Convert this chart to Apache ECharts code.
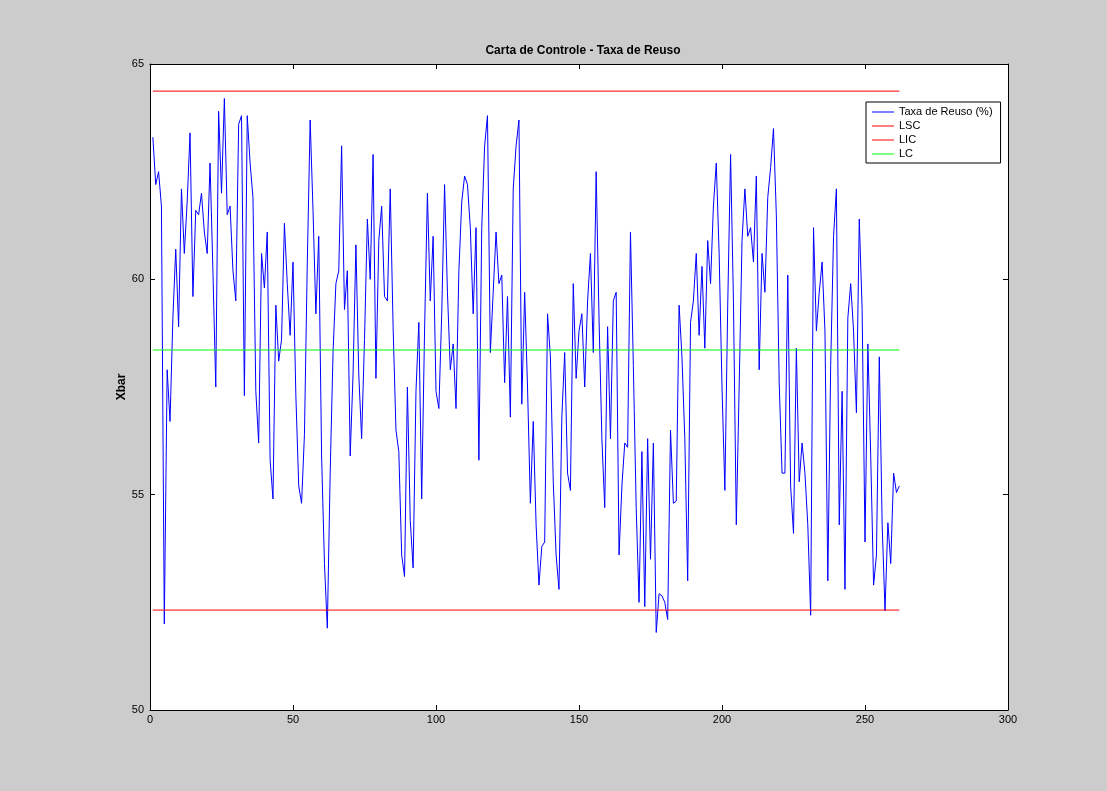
<!DOCTYPE html>
<html>
<head>
<meta charset="utf-8">
<script src="https://cdn.jsdelivr.net/npm/echarts@6/dist/echarts.min.js"></script>
<style>
  html, body { margin: 0; padding: 0; background: #cccccc; }
  #chart { width: 1107px; height: 791px; }
</style>
</head>
<body>
<div id="chart"></div>
<script>
// dados da carta de controle (amostras 1..262)
var taxaReuso = [
  63.3, 62.2, 62.5, 61.7, 52.0, 57.9, 56.7, 59.1, 60.7, 58.9,
  62.1, 60.6, 61.8, 63.4, 59.6, 61.6, 61.5, 62.0, 61.1, 60.6,
  62.7, 60.2, 57.5, 63.9, 62.0, 64.2, 61.5, 61.7, 60.2, 59.5,
  63.6, 63.8, 57.3, 63.8, 62.7, 61.9, 57.4, 56.2, 60.6, 59.8,
  61.1, 55.8, 54.9, 59.4, 58.1, 58.6, 61.3, 59.9, 58.7, 60.4,
  57.3, 55.2, 54.8, 56.4, 60.4, 63.7, 61.6, 59.2, 61.0, 55.9,
  53.4, 51.9, 55.5, 58.3, 59.9, 60.2, 63.1, 59.3, 60.2, 55.9,
  57.8, 60.8, 57.8, 56.3, 58.6, 61.4, 60.0, 62.9, 57.7, 60.9,
  61.7, 59.6, 59.5, 62.1, 58.9, 56.5, 56.0, 53.6, 53.1, 57.5,
  54.4, 53.3, 57.4, 59.0, 54.9, 58.8, 62.0, 59.5, 61.0, 57.4,
  57.0, 59.2, 62.2, 59.7, 57.9, 58.5, 57.0, 60.2, 61.8, 62.4,
  62.2, 61.2, 59.2, 61.2, 55.8, 61.2, 63.1, 63.8, 58.3, 59.7,
  61.1, 59.9, 60.1, 57.6, 59.6, 56.8, 62.1, 63.1, 63.7, 57.1,
  59.7, 57.5, 54.8, 56.7, 54.3, 52.9, 53.8, 53.9, 59.2, 58.2,
  55.3, 53.6, 52.8, 56.8, 58.3, 55.5, 55.1, 59.9, 57.7, 58.8,
  59.2, 57.5, 59.5, 60.6, 58.3, 62.5, 59.1, 56.3, 54.7, 58.9,
  56.3, 59.5, 59.7, 53.6, 55.2, 56.2, 56.1, 61.1, 58.0, 54.7,
  52.5, 56.0, 52.4, 56.3, 53.5, 56.2, 51.8, 52.7, 52.65, 52.5,
  52.1, 56.5, 54.8, 54.85, 59.4, 58.2, 56.3, 53.0, 59.0, 59.5,
  60.6, 58.7, 60.3, 58.4, 60.9, 59.9, 61.7, 62.7, 60.6, 57.5,
  55.1, 59.4, 62.9, 59.5, 54.3, 57.5, 60.9, 62.1, 61.0, 61.2,
  60.4, 62.4, 57.9, 60.6, 59.7, 61.9, 62.6, 63.5, 61.5, 57.6,
  55.5, 55.5, 60.1, 55.2, 54.1, 58.4, 55.3, 56.2, 55.5, 54.3,
  52.2, 61.2, 58.8, 59.7, 60.4, 58.8, 53.0, 58.0, 61.0, 62.1,
  54.3, 57.4, 52.8, 59.1, 59.9, 58.8, 56.9, 61.4, 59.3, 53.9,
  58.5, 55.9, 52.9, 53.6, 58.2, 54.3, 52.3, 54.35, 53.4, 55.5,
  55.05, 55.2
];
var lsc = 64.37;   // limite superior
var lic = 52.32;   // limite inferior
var lc = 58.36;    // linha central
var xTicks = [0, 50, 100, 150, 200, 250, 300];
var yTicks = [50, 55, 60, 65];

var chart = echarts.init(document.getElementById('chart'), null, { renderer: 'canvas' });

var serie = taxaReuso.map(function (v, i) { return [i + 1, v]; });
var n = taxaReuso.length;
function constante(v) { return [[1, v], [n, v]]; }

var fonte = 'Liberation Sans, Arial, Helvetica, sans-serif';
function eixo() {
  return {
    axisLine: { show: true, onZero: false, lineStyle: { color: '#000', width: 1 } },
    axisTick: { show: true, inside: true, length: 5, lineStyle: { color: '#000' } },
    splitLine: { show: false }
  };
}

var option = {
  animation: false,
  backgroundColor: '#cccccc',
  title: {
    text: 'Carta de Controle - Taxa de Reuso',
    left: 578, top: 40, textAlign: 'center',
    textStyle: { fontFamily: fonte, fontSize: 12, fontWeight: 'bold', color: '#000' }
  },
  grid: { left: 150, top: 64, width: 858, height: 646, backgroundColor: '#fff', show: true, borderWidth: 0 },
  legend: {
    orient: 'vertical',
    left: 866, top: 102,
    backgroundColor: '#fff',
    borderColor: '#000', borderWidth: 1, borderRadius: 0,
    padding: [4, 8, 3, 6],
    itemGap: 2,
    itemWidth: 22, itemHeight: 1,
    icon: 'rect',
    textStyle: { fontFamily: fonte, fontSize: 11, color: '#000', lineHeight: 12 },
    data: ['Taxa de Reuso (%)', 'LSC', 'LIC', 'LC']
  },
  xAxis: [
    Object.assign(eixo(), {
      type: 'value', min: xTicks[0], max: xTicks[xTicks.length - 1], interval: 50,
      axisLabel: { color: '#000', fontFamily: fonte, fontSize: 11, margin: 4 }
    }),
    Object.assign(eixo(), {
      type: 'value', position: 'top', min: 0, max: 300, interval: 50,
      axisLabel: { show: false }
    })
  ],
  yAxis: [
    Object.assign(eixo(), {
      type: 'value', min: yTicks[0], max: yTicks[yTicks.length - 1], interval: 5,
      name: 'Xbar', nameLocation: 'middle', nameGap: 22, nameMoveOverlap: false,
      nameTextStyle: { fontFamily: fonte, fontSize: 12, fontWeight: 'bold', color: '#000' },
      axisLabel: { color: '#000', fontFamily: fonte, fontSize: 11, margin: 6 }
    }),
    Object.assign(eixo(), {
      type: 'value', position: 'right', min: 50, max: 65, interval: 5,
      axisLabel: { show: false }
    })
  ],
  series: [
    {
      name: 'Taxa de Reuso (%)', type: 'line', data: serie,
      showSymbol: false, color: '#0000ff', lineStyle: { width: 1 }
    },
    {
      name: 'LSC', type: 'line', data: constante(lsc),
      showSymbol: false, color: '#ff0000', lineStyle: { width: 1 }
    },
    {
      name: 'LIC', type: 'line', data: constante(lic),
      showSymbol: false, color: '#ff0000', lineStyle: { width: 1 }
    },
    {
      name: 'LC', type: 'line', data: constante(lc),
      showSymbol: false, color: '#00ff00', lineStyle: { width: 1 }
    }
  ]
};

chart.setOption(option);
</script>
</body>
</html>
